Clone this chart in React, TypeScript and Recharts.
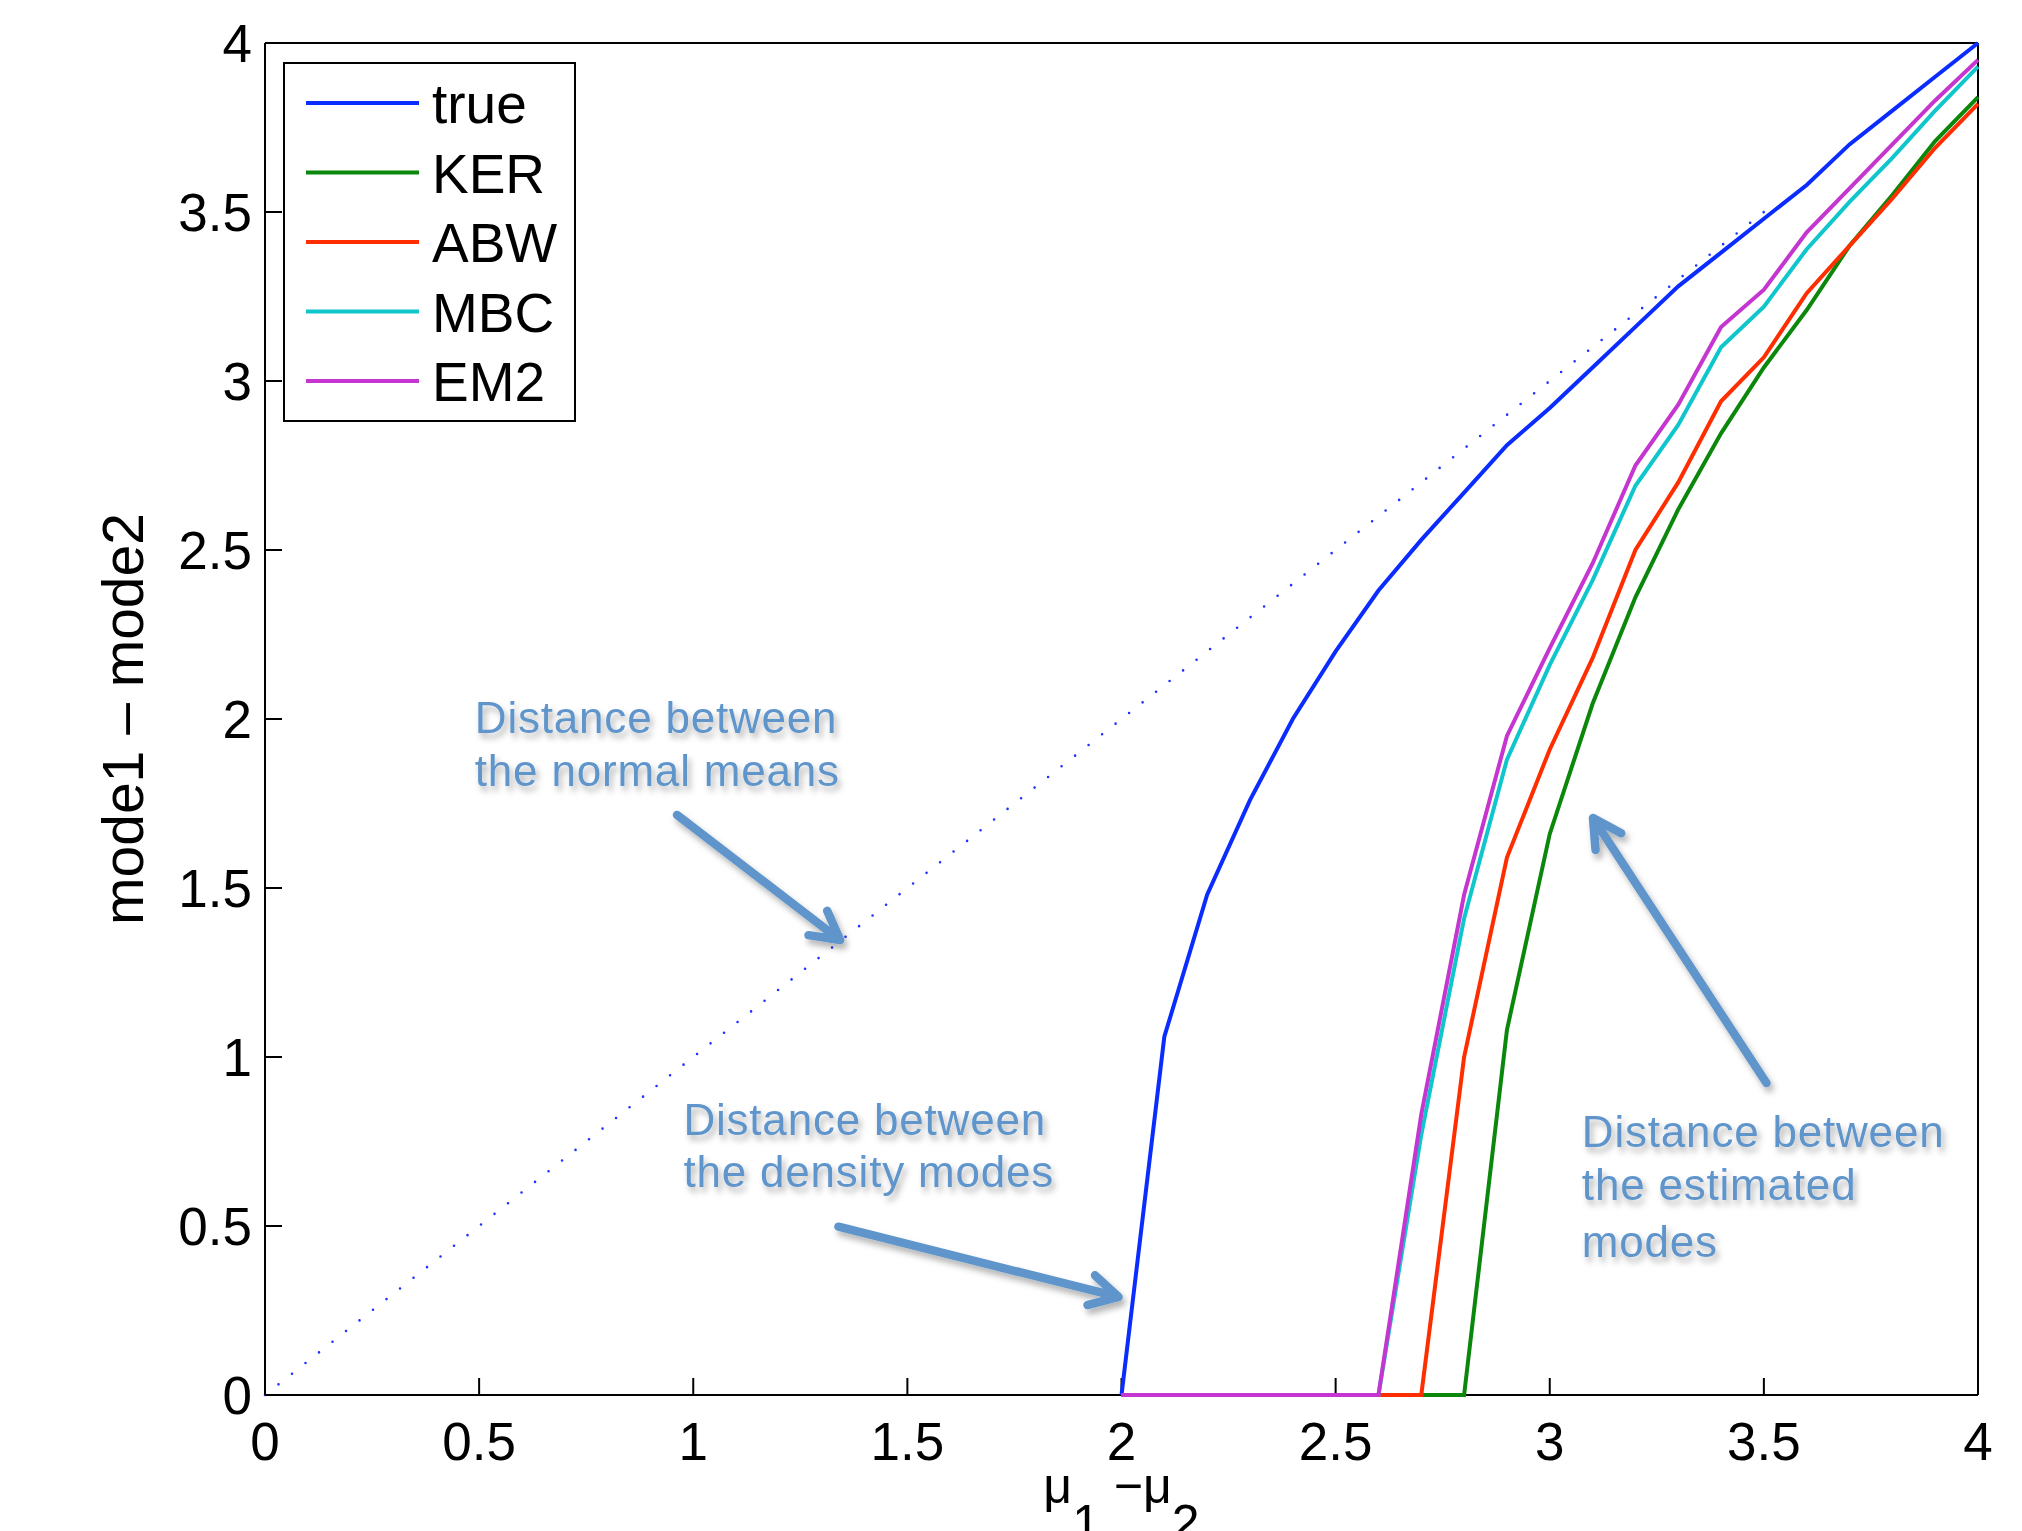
import React from 'react';
import { LineChart, Line, XAxis, YAxis, Legend, ReferenceLine, ReferenceDot } from 'recharts';

const FONT = '"Liberation Sans", Arial, Helvetica, sans-serif';
const NOTE_COLOR = '#5f95cb';

// mu1 - mu2 grid (the estimates start at 2.0)
const xValues = [2.0, 2.1, 2.2, 2.3, 2.4, 2.5, 2.6, 2.7, 2.8, 2.9, 3.0, 3.1, 3.2, 3.3, 3.4, 3.5, 3.6, 3.7, 3.8, 3.9, 4.0];

const trueModes = [0, 1.06, 1.48, 1.76, 2.0, 2.2, 2.38, 2.53, 2.67, 2.81, 2.92, 3.04, 3.16, 3.28, 3.38, 3.48, 3.58, 3.7, 3.8, 3.9, 4.0];
const kerModes = [0, 0, 0, 0, 0, 0, 0, 0, 0, 1.08, 1.66, 2.045, 2.36, 2.62, 2.845, 3.04, 3.21, 3.4, 3.55, 3.71, 3.84];
const abwModes = [0, 0, 0, 0, 0, 0, 0, 0, 1.0, 1.59, 1.91, 2.18, 2.5, 2.7, 2.94, 3.07, 3.26, 3.4, 3.54, 3.69, 3.82];
const mbcModes = [0, 0, 0, 0, 0, 0, 0, 0.77, 1.41, 1.88, 2.16, 2.41, 2.69, 2.87, 3.1, 3.22, 3.39, 3.53, 3.66, 3.8, 3.93];
const em2Modes = [0, 0, 0, 0, 0, 0, 0, 0.83, 1.48, 1.95, 2.21, 2.46, 2.75, 2.93, 3.16, 3.27, 3.44, 3.57, 3.7, 3.83, 3.95];

// distance between the normal means (y = x), visible up to ~3.5
const diagX = [0, 3.5];
const diagY = [0, 3.5];

const seriesNames = ['true', 'KER', 'ABW', 'MBC', 'EM2'];
const seriesColors = ['#0a2cff', '#0b870b', '#ff2e00', '#0fc6cc', '#c535cf'];
const seriesValues = [trueModes, kerModes, abwModes, mbcModes, em2Modes];

const axisTicks = [0, 0.5, 1, 1.5, 2, 2.5, 3, 3.5, 4];

const rows = xValues.map((x, i) => {
  const row: Record<string, number> = { x };
  seriesNames.forEach((name, s) => {
    row[name] = seriesValues[s][i];
  });
  return row;
});

const diagonal = diagX.map((x, i) => ({ x, y: diagY[i] }));

const axisLine = { stroke: '#000', strokeWidth: 2 };
const tickStyle = { fill: '#000', fontSize: 53, fontFamily: FONT };

const Arrow = (p: any) => {
  const { x1, y1, x2, y2 } = p;
  const ang = Math.atan2(y2 - y1, x2 - x1);
  const len = 32;
  const spread = 0.5;
  const ax = x2 - len * Math.cos(ang - spread);
  const ay = y2 - len * Math.sin(ang - spread);
  const bx = x2 - len * Math.cos(ang + spread);
  const by = y2 - len * Math.sin(ang + spread);
  return (
    <path
      d={`M${x1},${y1}L${x2},${y2}M${ax},${ay}L${x2},${y2}L${bx},${by}`}
      stroke={NOTE_COLOR}
      strokeWidth={8.5}
      strokeLinecap="round"
      strokeLinejoin="round"
      fill="none"
      filter="url(#noteShadow)"
    />
  );
};

const note = (lines: string[], gaps: number[]) => (p: any) => (
  <text
    x={p.cx}
    y={p.cy}
    fill={NOTE_COLOR}
    fontSize={44}
    letterSpacing={0.8}
    fontFamily={FONT}
    filter="url(#noteShadow)"
  >
    {lines.map((l, i) => (
      <tspan key={i} x={p.cx} dy={gaps[i]}>{l}</tspan>
    ))}
  </text>
);

const YLabel = (props: any) => {
  const vb = props.viewBox;
  const cx = vb.x + 143;
  const cy = vb.y + vb.height / 2;
  return (
    <text x={cx} y={cy} transform={`rotate(-90, ${cx}, ${cy})`} textAnchor="middle" fontSize={57} fontFamily={FONT} fill="#000">
      mode1 – mode2
    </text>
  );
};

const XLabel = (props: any) => {
  const vb = props.viewBox;
  const cx = vb.x + vb.width / 2;
  const cy = vb.y + 108;
  return (
    <text x={cx} y={cy} textAnchor="middle" fontSize={50} fontFamily={FONT} fill="#000">
      μ<tspan dy={37}>1</tspan><tspan dy={-37}> −μ</tspan><tspan dy={37}>2</tspan>
    </text>
  );
};

const LegendBox = () => (
  <svg width={293} height={360} style={{ display: 'block' }}>
    <rect x={1} y={1} width={291} height={358} fill="#fff" stroke="#000" strokeWidth={2} />
    {seriesNames.map((name, i) => {
      const cy = 41 + i * 69.5;
      return (
        <g key={name}>
          <line x1={23} x2={136} y1={cy} y2={cy} stroke={seriesColors[i]} strokeWidth={4} />
          <text x={149} y={cy + 20} fontSize={55} fontFamily={FONT} fill="#000">{name}</text>
        </g>
      );
    })}
  </svg>
);

export default function App() {
  return (
    <div style={{ position: 'absolute', left: 0, top: 0, width: 2022, height: 1531, background: '#fff' }}>
      <svg width={0} height={0} style={{ position: 'absolute' }}>
        <defs>
          <filter id="noteShadow" x="-20%" y="-30%" width="140%" height="160%">
            <feDropShadow dx={3} dy={5} stdDeviation={3} floodColor="#000" floodOpacity={0.3} />
          </filter>
        </defs>
      </svg>
      <LineChart width={2022} height={1531} data={rows} margin={{ top: 0, right: 0, bottom: 0, left: 0 }}>
        <XAxis
          dataKey="x"
          type="number"
          domain={[0, 4]}
          ticks={axisTicks}
          interval={0}
          height={136}
          tickSize={-17}
          tickMargin={44}
          axisLine={axisLine}
          tickLine={axisLine}
          tick={tickStyle}
          label={XLabel}
        />
        <XAxis
          xAxisId="top"
          orientation="top"
          type="number"
          domain={[0, 4]}
          ticks={axisTicks}
          interval={0}
          height={43}
          tickSize={-17}
          axisLine={axisLine}
          tickLine={axisLine}
          tick={false}
        />
        <YAxis
          type="number"
          domain={[0, 4]}
          ticks={axisTicks}
          interval={0}
          width={265}
          tickSize={-17}
          tickMargin={30}
          axisLine={axisLine}
          tickLine={axisLine}
          tick={tickStyle}
          label={YLabel}
        />
        <YAxis
          yAxisId="right"
          orientation="right"
          type="number"
          domain={[0, 4]}
          ticks={axisTicks}
          interval={0}
          width={44}
          tickSize={-17}
          axisLine={axisLine}
          tickLine={axisLine}
          tick={false}
        />
        <Line
          data={diagonal}
          dataKey="y"
          name="means"
          stroke="#1f33ff"
          strokeWidth={2.6}
          strokeDasharray="0 17.2"
          strokeLinecap="round"
          dot={false}
          activeDot={false}
          legendType="none"
          isAnimationActive={false}
        />
        {seriesNames.map((name, i) => (
          <Line
            key={name}
            dataKey={name}
            name={name}
            type="linear"
            stroke={seriesColors[i]}
            strokeWidth={4}
            dot={false}
            activeDot={false}
            isAnimationActive={false}
            zIndex={600}
          />
        ))}
        <ReferenceLine segment={[{ x: 0.962, y: 1.716 }, { x: 1.343, y: 1.346 }]} shape={Arrow} />
        <ReferenceLine segment={[{ x: 1.339, y: 0.498 }, { x: 1.993, y: 0.29 }]} shape={Arrow} />
        <ReferenceLine segment={[{ x: 3.506, y: 0.923 }, { x: 3.101, y: 1.707 }]} shape={Arrow} />
        <ReferenceDot x={0.49} y={1.958} r={0} shape={note(['Distance between', 'the normal means'], [0, 53])} />
        <ReferenceDot x={0.977} y={0.769} r={0} shape={note(['Distance between', 'the density modes'], [0, 52])} />
        <ReferenceDot x={3.075} y={0.735} r={0} shape={note(['Distance between', 'the estimated', 'modes'], [0, 53, 57])} />
        <Legend
          layout="vertical"
          align="center"
          verticalAlign="middle"
          wrapperStyle={{ left: 283, top: 62, width: 293, height: 360 }}
          content={() => <LegendBox />}
        />
      </LineChart>
    </div>
  );
}
